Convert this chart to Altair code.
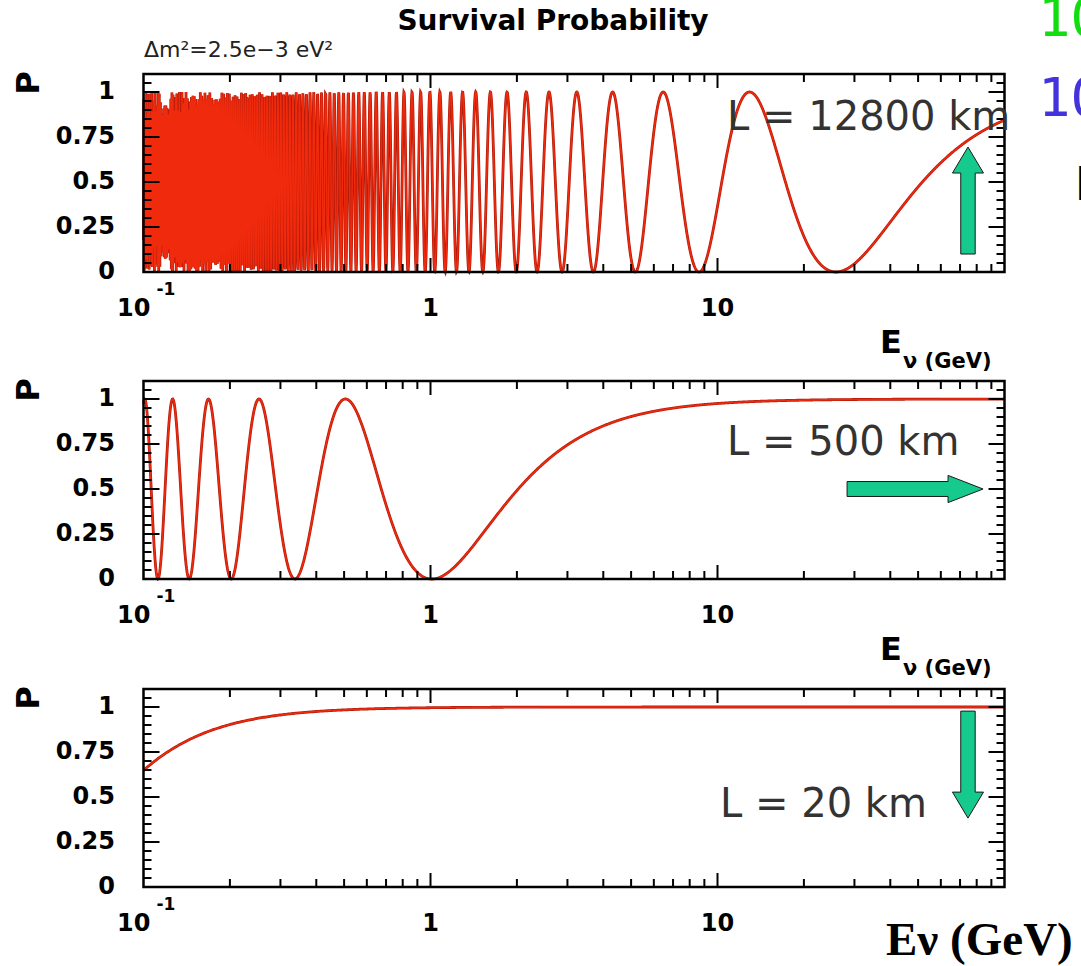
import numpy as np
import pandas as pd
import altair as alt

# Two-flavour survival probability P = 1 - sin^2(1.27 dm2 L / E)
dm2 = 2.5e-3                      # eV^2
baselines_km = [12800, 500, 20]
panel_labels = ["L = 12800 km", "L = 500 km", "L = 20 km"]
energy_range = [0.1, 100]         # GeV
n_samples = [3000, 1500, 600]

y_major = [0, 0.25, 0.5, 0.75, 1]
y_major_labels = ["0", "0.25", "0.5", "0.75", "1"]
y_minor = [0.05, 0.1, 0.15, 0.2, 0.3, 0.35, 0.4, 0.45, 0.55, 0.6, 0.65, 0.7,
           0.8, 0.85, 0.9, 0.95, 1.05]
x_major = [1, 10]
x_major_labels = ["1", "10"]
x_minor = [0.2, 0.3, 0.4, 0.5, 0.6, 0.7, 0.8, 0.9,
           2, 3, 4, 5, 6, 7, 8, 9,
           20, 30, 40, 50, 60, 70, 80, 90]

# ---- page geometry --------------------------------------------------------
W, H = 1081, 966
PX_DEC = 287.0        # pixels per decade of energy
X0 = 143.5            # pixel column of E = 0.1 GeV
PX_UNIT = 180.0       # pixels per unit of probability
Y_TOP = 1.1
bottoms = [272, 579, 887]   # pixel row of P = 0 in each panel

x_dom = [0.1 * 10 ** (-X0 / PX_DEC), 0.1 * 10 ** ((W - X0) / PX_DEC)]

CURVE = "#f02a0c"
CURVE_EDGE = "#b41a0a"
ARROW = "#16c98c"
BOLD = "DejaVu Sans"


def xenc(field):
    return alt.X(field, type="quantitative",
                 scale=alt.Scale(type="log", domain=x_dom, nice=False),
                 axis=None)


def yenc(field, dom):
    return alt.Y(field, type="quantitative",
                 scale=alt.Scale(domain=dom, nice=False, zero=False),
                 axis=None)


def tick_table():
    rows = []
    for e in x_major + x_minor:
        ln = (14 if e in x_major else 8) / PX_UNIT
        rows.append(dict(x=e, x2=e, y=0, y2=ln))
        rows.append(dict(x=e, x2=e, y=Y_TOP, y2=Y_TOP - ln))
    for p in y_major[1:] + y_minor:
        f = 10 ** ((16 if p in y_major else 8) / PX_DEC)
        lo, hi = energy_range
        rows.append(dict(x=lo, x2=lo * f, y=p, y2=p))
        rows.append(dict(x=hi, x2=hi / f, y=p, y2=p))
    return pd.DataFrame(rows)


def arrow_path(direction):
    # unit-box arrow shapes (symbol coordinates run from -1 to 1)
    if direction == "right":
        return "M1,0 L0.485,-0.2 L0.485,-0.11 L-1,-0.11 L-1,0.11 L0.485,0.11 L0.485,0.2 Z"
    return "M0,-1 L0.29,-0.514 L0.135,-0.514 L0.135,1 L-0.135,1 L-0.135,-0.514 L-0.29,-0.514 Z"


# arrow placement per panel: (E, P, direction, size, angle)
arrows = [(74.6, 0.397, "up", 107 ** 2, 0),
          (48.8, 0.5, "right", 136 ** 2, 0),
          (74.6, 0.68, "up", 107 ** 2, 180)]
label_pos = [(727, 130), (727, 455), (720, 817)]

panels = []
for i, L in enumerate(baselines_km):
    b = bottoms[i]
    ydom = [-(H - b) / PX_UNIT, b / PX_UNIT]

    E = np.logspace(np.log10(energy_range[0]), np.log10(energy_range[1]), n_samples[i])
    P = 1 - np.sin(1.27 * dm2 * L / E) ** 2
    curve_df = pd.DataFrame({"E": E, "P": P})

    frame = alt.Chart(pd.DataFrame([dict(x=energy_range[0], x2=energy_range[1], y=0, y2=Y_TOP)])).mark_rect(
        filled=False, stroke="black", strokeWidth=2.5
    ).encode(x=xenc("x"), x2="x2:Q", y=yenc("y", ydom), y2="y2:Q")

    ticks = alt.Chart(tick_table()).mark_rule(color="black", strokeWidth=2).encode(
        x=xenc("x"), x2="x2:Q", y=yenc("y", ydom), y2="y2:Q")

    curve_edge = alt.Chart(curve_df).mark_line(color=CURVE_EDGE, strokeWidth=2.8).encode(
        x=xenc("E"), y=yenc("P", ydom))
    curve = alt.Chart(curve_df).mark_line(color=CURVE, strokeWidth=1.5).encode(
        x=xenc("E"), y=yenc("P", ydom))

    ylab = alt.Chart(pd.DataFrame({"P": y_major, "t": y_major_labels})).mark_text(
        align="right", baseline="middle", font=BOLD, fontWeight="bold", fontSize=24, color="black"
    ).encode(x=alt.value(115), y=yenc("P", ydom), text="t:N")

    lab_y = -44 / PX_UNIT
    xlab = alt.Chart(pd.DataFrame({"E": x_major, "P": [lab_y] * len(x_major), "t": x_major_labels})).mark_text(
        align="center", baseline="alphabetic", font=BOLD, fontWeight="bold", fontSize=24, color="black"
    ).encode(x=xenc("E"), y=yenc("P", ydom), text="t:N")

    base_df = pd.DataFrame({"E": [energy_range[0]], "P": [lab_y], "t": ["10"], "s": ["-1"]})
    xlab_base = alt.Chart(base_df).mark_text(
        align="right", baseline="alphabetic", dx=7, font=BOLD, fontWeight="bold", fontSize=24, color="black"
    ).encode(x=xenc("E"), y=yenc("P", ydom), text="t:N")
    xlab_exp = alt.Chart(base_df).mark_text(
        align="left", baseline="alphabetic", dx=13, dy=-21, font=BOLD, fontWeight="bold", fontSize=17, color="black"
    ).encode(x=xenc("E"), y=yenc("P", ydom), text="s:N")

    ae, ap, adir, asize, aang = arrows[i]
    arrow = alt.Chart(pd.DataFrame({"E": [ae], "P": [ap]})).mark_point(
        shape=arrow_path(adir), size=asize, angle=aang, filled=True,
        fill=ARROW, stroke="#1a1a1a", strokeWidth=1, opacity=1
    ).encode(x=xenc("E"), y=yenc("P", ydom))

    lx, ly = label_pos[i]
    llab = alt.Chart(pd.DataFrame({"t": [panel_labels[i]]})).mark_text(
        align="left", baseline="alphabetic", font="DejaVu Sans", fontSize=40, color="#333333"
    ).encode(x=alt.value(lx), y=alt.value(ly), text="t:N")

    plab = alt.Chart(pd.DataFrame({"t": ["P"]})).mark_text(
        align="center", baseline="middle", angle=270, font=BOLD, fontWeight="bold", fontSize=32, color="black"
    ).encode(x=alt.value(29), y=alt.value(b - 189), text="t:N")

    layers = [curve_edge, curve, frame, ticks, ylab, xlab, xlab_base, xlab_exp, arrow, llab, plab]

    if i < 2:
        e_lab = alt.Chart(pd.DataFrame({"t": ["E"]})).mark_text(
            align="left", baseline="alphabetic", font=BOLD, fontWeight="bold", fontSize=32, color="black"
        ).encode(x=alt.value(880), y=alt.value(b + 81), text="t:N")
        e_sub = alt.Chart(pd.DataFrame({"t": ["ν (GeV)"]})).mark_text(
            align="left", baseline="alphabetic", font=BOLD, fontWeight="bold", fontSize=21, color="black"
        ).encode(x=alt.value(903), y=alt.value(b + 96), text="t:N")
        layers += [e_lab, e_sub]

    panels.append(alt.layer(*layers))


def note(text, x, y, size, **kw):
    return alt.Chart(pd.DataFrame({"t": [text]})).mark_text(
        baseline="alphabetic", fontSize=size, **kw
    ).encode(x=alt.value(x), y=alt.value(y), text="t:N")


title = note("Survival Probability", 553, 30, 28, align="center", font=BOLD, fontWeight="bold", color="black")
dm_note = note("Δm²=2.5e−3 eV²", 144, 57, 22, align="left", font="DejaVu Sans", color="#222222")
energy_note = note("Eν (GeV)", 886, 955, 47, align="left", font="Liberation Serif", fontWeight="bold", color="black")
side_green = note("10", 1038, 36, 54, align="left", font="DejaVu Sans Mono", color="#11dd11")
side_blue = note("10", 1038, 116, 54, align="left", font="DejaVu Sans Mono", color="#4433dd")
side_black = note("I", 1075, 200, 46, align="left", font=BOLD, fontWeight="bold", color="black")

chart = alt.layer(
    *panels, title, dm_note, energy_note, side_green, side_blue, side_black
).resolve_scale(y="independent").properties(
    width=W, height=H, padding=0, autosize=alt.AutoSizeParams(type="none"),
    background="white"
).configure_view(strokeWidth=0)

chart.save("out.html", embed_options={"renderer": "svg", "actions": False})
